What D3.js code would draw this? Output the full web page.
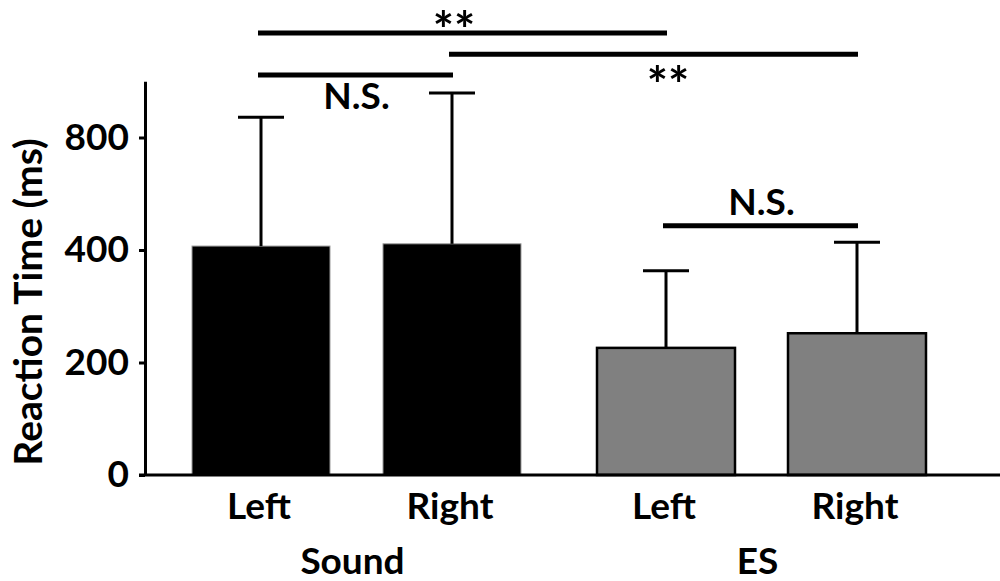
<!DOCTYPE html>
<html>
<head>
<meta charset="utf-8">
<script src="https://cdn.jsdelivr.net/npm/d3@7"></script>
<style>
  html, body { margin: 0; padding: 0; background: #fff; }
  svg { display: block; }
  text { font-family: Lato, "Open Sans", sans-serif; font-weight: bold; fill: #000; }
</style>
</head>
<body>
<svg id="chart" width="1000" height="581"></svg>
<script>
// ---- data ----
const groups = ["Sound", "ES"];
const sides = ["Left", "Right"];
const meanSound = [407, 411];   // Left, Right
const meanES = [226, 252];
const sdSound = [229, 268];
const sdES = [137, 162];
const tickValues = [0, 200, 400, 600];
const tickLabels = ["0", "200", "400", "800"];
const yLabel = "Reaction Time (ms)";
// significance brackets: from bar, to bar, bracket height (y units), label
const bracketFrom = ["Sound-Left", "Sound-Right", "Sound-Left", "ES-Left"];
const bracketTo = ["ES-Left", "ES-Right", "Sound-Right", "ES-Right"];
const bracketLevel = [786, 748, 711, 443];
const bracketText = ["**", "**", "N.S.", "N.S."];
const bracketLabelAt = ["Sound-Right", "ES-Left", null, null];
const bracketLabelSide = ["above", "below", "below", "above"];

const bars = [];
groups.forEach((g, gi) => {
  const m = gi === 0 ? meanSound : meanES;
  const s = gi === 0 ? sdSound : sdES;
  sides.forEach((sd, si) => bars.push({ group: g, side: sd, mean: m[si], sd: s[si] }));
});

// ---- layout ----
const svg = d3.select("#chart");
const x0 = d3.scaleBand().domain(groups).range([154, 964]).padding(0);
const x1 = d3.scaleBand().domain(sides).range([0, x0.bandwidth()])
  .paddingInner(0.2775).paddingOuter(0.199);
const y = d3.scaleLinear().domain([0, 700]).range([475, 81.25]);
const cx = key => { const [g, s] = key.split("-"); return x0(g) + x1(s) + x1.bandwidth() / 2; };

const fill = { Sound: "#000000", ES: "#808080" };
const FS = "37px";

// bars
svg.append("g").selectAll("rect").data(bars).join("rect")
  .attr("x", d => x0(d.group) + x1(d.side))
  .attr("y", d => y(d.mean))
  .attr("width", x1.bandwidth())
  .attr("height", d => y(0) - y(d.mean))
  .attr("fill", d => fill[d.group])
  .attr("stroke", d => d.group === "ES" ? "#000" : "#9a9a9a")
  .attr("stroke-width", d => d.group === "ES" ? 2.5 : 1);

// error bars
const eb = svg.append("g").attr("stroke", "#000").attr("stroke-width", 3);
eb.selectAll("line.v").data(bars).join("line").attr("class", "v")
  .attr("x1", d => cx(d.group + "-" + d.side)).attr("x2", d => cx(d.group + "-" + d.side))
  .attr("y1", d => y(d.mean)).attr("y2", d => y(d.mean + d.sd));
eb.selectAll("line.c").data(bars).join("line").attr("class", "c")
  .attr("x1", d => cx(d.group + "-" + d.side) - 23).attr("x2", d => cx(d.group + "-" + d.side) + 23)
  .attr("y1", d => y(d.mean + d.sd)).attr("y2", d => y(d.mean + d.sd));

// y axis
const yAxis = d3.axisLeft(y).tickValues(tickValues)
  .tickFormat((d, i) => tickLabels[i]).tickSize(6).tickSizeOuter(0).tickPadding(10);
const ya = svg.append("g").attr("transform", "translate(145,0)").call(yAxis);
ya.select(".domain").attr("stroke", "#000").attr("stroke-width", 3);
ya.selectAll(".tick line").attr("stroke", "#000").attr("stroke-width", 3);
ya.selectAll(".tick text").style("font-family", "Lato, sans-serif").style("font-weight", "bold")
  .style("font-size", FS).attr("fill", "#000");

// x axis baseline
svg.append("line").attr("x1", 139).attr("x2", 1000).attr("y1", y(0)).attr("y2", y(0))
  .attr("stroke", "#000").attr("stroke-width", 3);

// x labels
svg.append("g").selectAll("text").data(bars).join("text")
  .attr("x", d => cx(d.group + "-" + d.side) - 2).attr("y", 519)
  .attr("text-anchor", "middle").style("font-size", FS).text(d => d.side);
svg.append("g").selectAll("text").data(groups).join("text")
  .attr("x", d => x0(d) + x0.bandwidth() / 2 - 4).attr("y", 574)
  .attr("text-anchor", "middle").style("font-size", FS).text(d => d);

// y label
svg.append("text").attr("transform", `translate(42,${(y(0) + 129) / 2}) rotate(-90)`)
  .attr("text-anchor", "middle").style("font-size", "39px").text(yLabel);

// brackets
const br = bracketFrom.map((f, i) => ({ f, t: bracketTo[i], lv: bracketLevel[i], txt: bracketText[i], at: bracketLabelAt[i], side: bracketLabelSide[i] }));
const bg = svg.append("g");
bg.selectAll("line").data(br).join("line")
  .attr("x1", d => cx(d.f) - 3).attr("x2", d => cx(d.t) + 1)
  .attr("y1", d => y(d.lv)).attr("y2", d => y(d.lv))
  .attr("stroke", "#000").attr("stroke-width", 5);
bg.selectAll("text").data(br).join("text")
  .attr("x", d => d.at ? cx(d.at) + 2 : (cx(d.f) + cx(d.t)) / 2)
  .attr("y", d => {
    const ly = y(d.lv);
    if (d.txt === "**") return d.side === "above" ? ly + 15 : ly + 49;
    return d.side === "above" ? ly - 11 : ly + 34;
  })
  .attr("text-anchor", "middle")
  .style("font-size", d => d.txt === "**" ? "50px" : FS)
  .text(d => d.txt);
</script>
</body>
</html>
